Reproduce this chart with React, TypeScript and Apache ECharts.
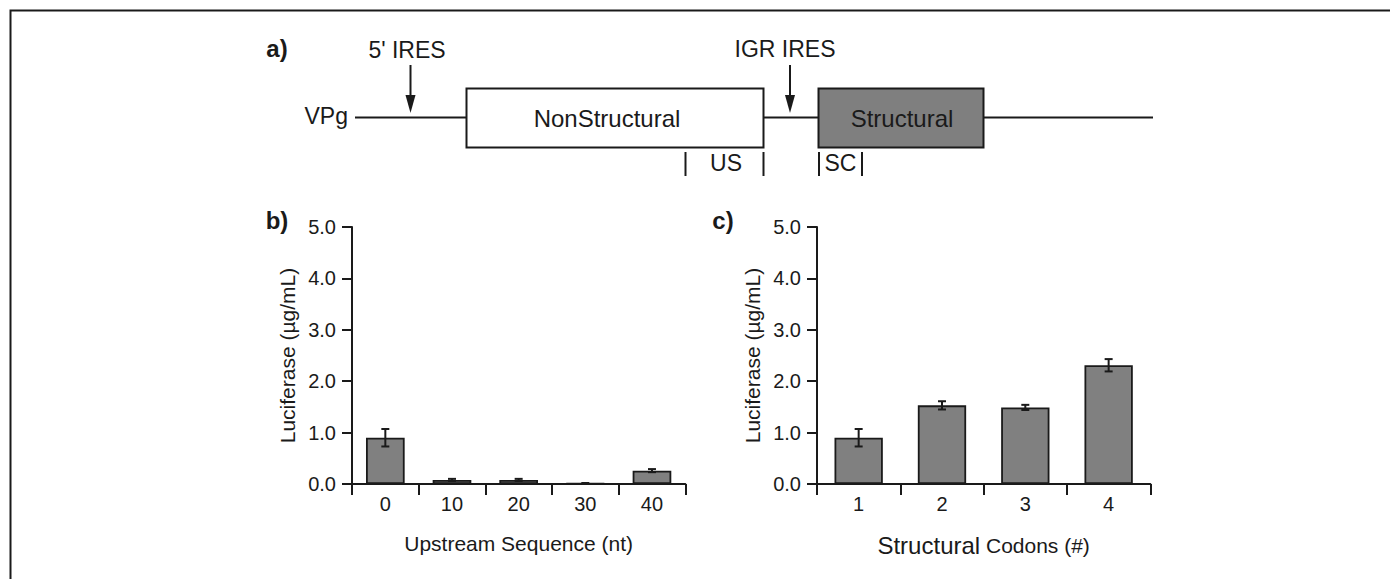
import React, { useEffect, useRef } from "react";
import * as echarts from "echarts";

const bCategories = ["0", "10", "20", "30", "40"];
const bValues = [0.9, 0.08, 0.08, 0.01, 0.26];
const bErrors = [0.17, 0.02, 0.02, 0.01, 0.03];

const cCategories = ["1", "2", "3", "4"];
const cValues = [0.9, 1.53, 1.49, 2.31];
const cErrors = [0.17, 0.08, 0.05, 0.12];

const yMin = 0;
const yMax = 5;
const yInterval = 1;

const FONT = "'Liberation Sans', Arial, Helvetica, sans-serif";
const INK = "#1a1a1a";

function errorRender(params: any, api: any) {
  const x = api.value(0);
  const v = api.value(1);
  const e = api.value(2);
  const top = api.coord([x, v + e]);
  const bot = api.coord([x, Math.max(0, v - e)]);
  const hw = 4;
  const st = { stroke: INK, lineWidth: 2 };
  return {
    type: "group",
    children: [
      { type: "line", shape: { x1: top[0], y1: top[1], x2: bot[0], y2: bot[1] }, style: st },
      { type: "line", shape: { x1: top[0] - hw, y1: top[1], x2: top[0] + hw, y2: top[1] }, style: st },
      { type: "line", shape: { x1: bot[0] - hw, y1: bot[1], x2: bot[0] + hw, y2: bot[1] }, style: st },
    ],
  };
}

function xAxisCfg(gridIndex: number, cats: string[], name: any, rich?: any) {
  return {
    type: "category",
    gridIndex,
    data: cats,
    boundaryGap: true,
    axisLine: { show: true, lineStyle: { color: INK, width: 2 } },
    axisTick: { show: true, alignWithLabel: false, length: 11, inside: false, lineStyle: { color: INK, width: 2 } },
    axisLabel: { color: INK, fontSize: 20, fontFamily: FONT, margin: 10 },
    name,
    nameLocation: "middle",
    nameGap: 49,
    nameTextStyle: { color: INK, fontSize: 21, fontFamily: FONT, rich },
    splitLine: { show: false },
  };
}

function yAxisCfg(gridIndex: number) {
  return {
    type: "value",
    gridIndex,
    min: yMin,
    max: yMax,
    interval: yInterval,
    axisLine: { show: true, lineStyle: { color: INK, width: 2 } },
    axisTick: { show: true, length: 10, lineStyle: { color: INK, width: 2 } },
    axisLabel: { color: INK, fontSize: 20, fontFamily: FONT, margin: 16, formatter: (v: number) => v.toFixed(1) },
    splitLine: { show: false },
    name: "Luciferase (µg/mL)",
    nameLocation: "middle",
    nameRotate: 90,
    nameGap: 54,
    nameTextStyle: { color: INK, fontSize: 21, fontFamily: FONT },
  };
}

function txt(x: number, y: number, text: string, size: number, extra: any = {}) {
  return {
    type: "text",
    x,
    y,
    style: {
      text,
      fill: INK,
      font: `${extra.bold ? "bold " : ""}${size}px ${FONT}`,
      align: extra.align || "center",
      verticalAlign: "middle",
    },
  };
}

function hline(x1: number, x2: number, y: number) {
  return { type: "line", shape: { x1, y1: y, x2, y2: y }, style: { stroke: INK, lineWidth: 2 } };
}
function vline(x: number, y1: number, y2: number) {
  return { type: "line", shape: { x1: x, y1, x2: x, y2 }, style: { stroke: INK, lineWidth: 2 } };
}
function arrow(x: number) {
  return [
    vline(x, 65, 99),
    { type: "polygon", shape: { points: [[x - 5, 95], [x + 5, 95], [x, 113]] }, style: { fill: INK } },
  ];
}

export default function App() {
  const ref = useRef<HTMLDivElement>(null);
  useEffect(() => {
    if (!ref.current) return;
    const chart = echarts.init(ref.current, undefined, { renderer: "svg" });
    const lineY = 117.5;
    chart.setOption({
      animation: false,
      backgroundColor: "#ffffff",
      grid: [
        { left: 352, top: 227, width: 333.3, height: 257 },
        { left: 817, top: 227, width: 333.3, height: 257 },
      ],
      xAxis: [
        xAxisCfg(0, bCategories, "Upstream Sequence (nt)"),
        xAxisCfg(1, cCategories, "{a|Structural} {b|Codons (#)}", {
          a: { fontSize: 24, fontFamily: FONT, color: INK },
          b: { fontSize: 21, fontFamily: FONT, color: INK },
        }),
      ],
      yAxis: [yAxisCfg(0), yAxisCfg(1)],
      series: [
        {
          type: "bar",
          xAxisIndex: 0,
          yAxisIndex: 0,
          data: bValues,
          barWidth: "58%",
          itemStyle: { color: "#808080", borderColor: INK, borderWidth: 1.8 },
        },
        {
          type: "custom",
          xAxisIndex: 0,
          yAxisIndex: 0,
          data: bValues.map((v, i) => [i, v, bErrors[i]]),
          encode: { x: 0, y: 1 },
          renderItem: errorRender,
          z: 5,
        },
        {
          type: "bar",
          xAxisIndex: 1,
          yAxisIndex: 1,
          data: cValues,
          barWidth: "58%",
          itemStyle: { color: "#808080", borderColor: INK, borderWidth: 1.8 },
        },
        {
          type: "custom",
          xAxisIndex: 1,
          yAxisIndex: 1,
          data: cValues.map((v, i) => [i, v, cErrors[i]]),
          encode: { x: 0, y: 1 },
          renderItem: errorRender,
          z: 5,
        },
      ],
      graphic: [
        {
          type: "rect",
          shape: { x: 10.5, y: 10.5, width: 1400, height: 600 },
          style: { fill: "none", stroke: INK, lineWidth: 2 },
          silent: true,
        },
        txt(277, 48, "a)", 24, { bold: true }),
        txt(277, 220, "b)", 24, { bold: true }),
        txt(723, 220, "c)", 24, { bold: true }),
        txt(407, 50, "5' IRES", 23),
        ...arrow(410.5),
        txt(348, 116, "VPg", 23, { align: "right" }),
        hline(355, 466, lineY),
        {
          type: "rect",
          shape: { x: 466.5, y: 88.5, width: 297, height: 59 },
          style: { fill: "#ffffff", stroke: INK, lineWidth: 2 },
        },
        txt(607, 118, "NonStructural", 24),
        hline(763.5, 818.5, lineY),
        txt(785, 49, "IGR IRES", 23),
        ...arrow(790),
        {
          type: "rect",
          shape: { x: 818.5, y: 88.5, width: 165, height: 59 },
          style: { fill: "#7f7f7f", stroke: INK, lineWidth: 2 },
        },
        txt(902, 118, "Structural", 24),
        hline(983.5, 1153, lineY),
        vline(685.5, 152, 176),
        vline(763.5, 152, 176),
        txt(726, 163, "US", 23),
        vline(819, 152, 176),
        vline(862, 152, 176),
        txt(840.5, 163, "SC", 23),
      ],
    });
    return () => chart.dispose();
  }, []);
  return (
    <div
      ref={ref}
      style={{ position: "fixed", left: 0, top: 0, width: 1390, height: 579, background: "#fff" }}
    />
  );
}
